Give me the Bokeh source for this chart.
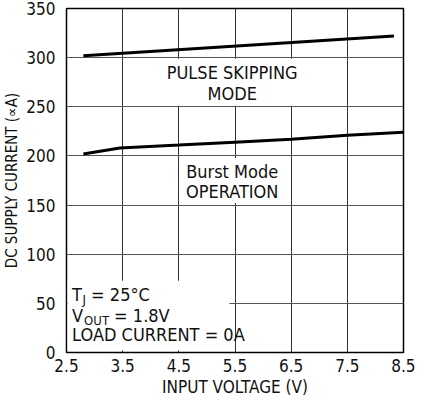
from bokeh.plotting import figure
from bokeh.models import FixedTicker, Label, BoxAnnotation
from bokeh.embed import file_html
from bokeh.resources import INLINE

# data
vin_psm = [2.8, 8.33]
i_psm = [302, 322]
vin_burst = [2.8, 3.45, 4.5, 5.5, 6.5, 7.5, 8.5]
i_burst = [202, 208, 211, 214, 217, 221, 224]

x_ticks = [2.5, 3.5, 4.5, 5.5, 6.5, 7.5, 8.5]
y_ticks = [0, 50, 100, 150, 200, 250, 300, 350]

FONT = "DejaVu Sans Condensed"

p = figure(width=415, height=400, x_range=(2.5, 8.5), y_range=(0, 350),
           output_backend="svg", toolbar_location=None,
           min_border_left=64, min_border_right=12, min_border_top=8, min_border_bottom=48)

p.outline_line_color = "black"
p.outline_line_width = 1.5

for ax in (p.xaxis[0], p.yaxis[0]):
    ax.major_tick_line_color = None
    ax.minor_tick_line_color = None
    ax.major_tick_out = 0
    ax.major_tick_in = 0
    ax.minor_tick_out = 0
    ax.minor_tick_in = 0
    ax.axis_line_color = None
    ax.major_label_text_font = FONT
    ax.major_label_text_font_size = "17px"
    ax.major_label_text_color = "#111111"
    ax.axis_label_text_font = FONT
    ax.axis_label_text_font_size = "17px"
    ax.axis_label_text_font_style = "normal"
    ax.axis_label_text_color = "#111111"

p.xaxis.ticker = FixedTicker(ticks=x_ticks)
p.yaxis.ticker = FixedTicker(ticks=y_ticks)
p.xaxis.axis_label = "INPUT VOLTAGE (V)"
p.yaxis.axis_label = "DC SUPPLY CURRENT (\u221dA)"
p.yaxis.axis_label_text_font_size = "15px"
p.xaxis.major_label_standoff = 6
p.yaxis.major_label_standoff = 11
p.xaxis.axis_label_standoff = 2
p.yaxis.axis_label_standoff = 2

p.xgrid.grid_line_color = "#333333"
p.ygrid.grid_line_color = "#555555"
p.xgrid.grid_line_width = 1
p.ygrid.grid_line_width = 1.2

# white boxes behind annotation texts
p.add_layout(BoxAnnotation(left=3.55, right=7.45, bottom=251, top=299,
                           fill_color="white", fill_alpha=1, line_color=None, level="underlay"))
p.add_layout(BoxAnnotation(left=4.55, right=6.45, bottom=152, top=198,
                           fill_color="white", fill_alpha=1, line_color=None, level="underlay"))
p.add_layout(BoxAnnotation(left=2.52, right=5.4, bottom=2, top=73,
                           fill_color="white", fill_alpha=1, line_color=None, level="underlay"))

p.line(vin_psm, i_psm, line_width=3, color="black")
p.line(vin_burst, i_burst, line_width=3, color="black")

def lab(x, y, text, size="18px", align="center", x_offset=0, y_offset=0):
    p.add_layout(Label(x=x, y=y, text=text, text_font=FONT, text_font_size=size,
                       text_align=align, text_baseline="middle", text_color="#111111",
                       x_offset=x_offset, y_offset=y_offset))

lab(5.45, 285, "PULSE SKIPPING")
lab(5.45, 264, "MODE")
lab(5.45, 184, "Burst Mode")
lab(5.45, 164, "OPERATION")

x0 = 2.6
lab(x0, 59, "T", align="left")
lab(x0, 59, "J", size="13px", align="left", x_offset=10.5, y_offset=-5)
lab(x0, 59, "= 25\u00b0C", align="left", x_offset=19)
lab(x0, 38, "V", align="left")
lab(x0, 38, "OUT", size="13px", align="left", x_offset=12, y_offset=-5)
lab(x0, 38, "= 1.8V", align="left", x_offset=42)
lab(x0, 18, "LOAD CURRENT = 0A", align="left")

open("out.html", "w").write(file_html(p, INLINE))
